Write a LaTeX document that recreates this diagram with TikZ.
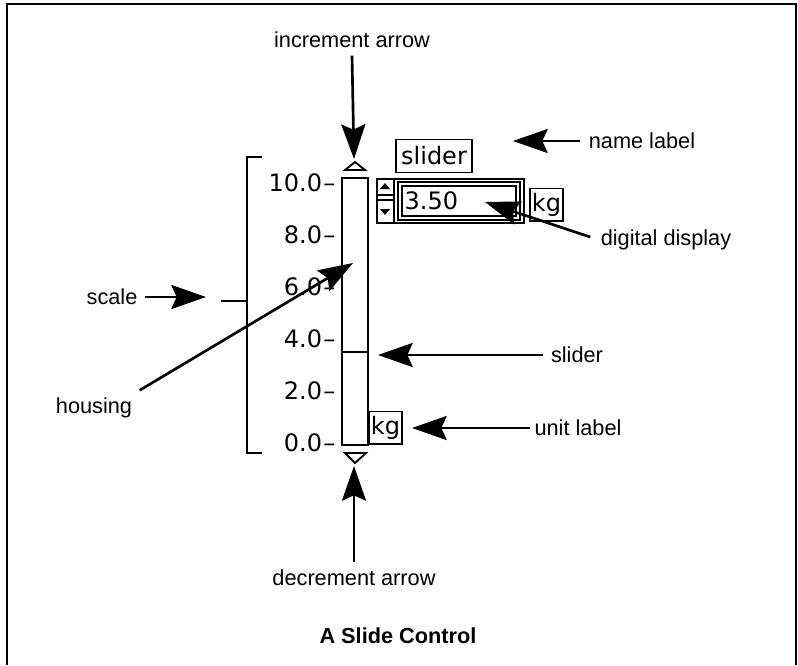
\documentclass[tikz,border=0pt]{standalone}
\usepackage{fontspec}
\setmainfont{Liberation Sans}
\newfontfamily\macfont{DejaVu Sans}
\usetikzlibrary{positioning,arrows.meta,calc}

\begin{document}
\begin{tikzpicture}[
  x=0.75pt, y=-0.75pt,
  lbl/.style={font=\fontsize{16.3}{18}\selectfont, inner sep=1pt},
  mac/.style={font=\macfont\fontsize{18}{20}\selectfont, inner sep=1pt},
  widget/.style={line width=1.4pt},
  tag/.style={draw, line width=1.2pt, mac, minimum width=25pt, minimum height=24.5pt, inner sep=1pt},
  arr/.style={-{Stealth[length=26pt, width=18pt, inset=4pt]}, line width=2pt}
]
  \useasboundingbox (0,0) rectangle (798,665);
  \draw[line width=2.2pt] (7,665) -- (7,4) -- (796,4) -- (796,665);

  % housing with slider and arrows
  \draw[widget] (342,178) rectangle (368,445);
  \draw[widget] (342,352) -- (368,352);
  \draw[widget] (345,170) -- (365,170) -- (355,162) -- cycle;
  \draw[widget] (345,453) -- (366,453) -- (355,463) -- cycle;
  \coordinate (incPt) at (354,159);
  \coordinate (decPt) at (354,466);
  \coordinate (housingPt) at (353,263);
  \coordinate (sliderPt) at (378,355);

  % scale
  \draw[widget] (262,157) -- (247,157) -- (247,453) -- (262,453);
  \draw[widget] (247,301) -- (221,301);
  \coordinate (scalePt) at (206,297);
  \foreach \v [count=\i from 0] in {0.0,2.0,4.0,6.0,8.0,10.0}
    \node[mac, anchor=east] (tick\i) at (337,443-52*\i) {\v\kern1pt–};

  % unit label
  \node[tag, anchor=south west] (unitLbl) at (368,445) {kg};
  \coordinate (unitPt) at (412,428);

  % name label
  \node[tag, minimum width=57pt] (nameLbl) at (434,156) {slider};
  \coordinate (namePt) at (513,141);

  % digital display
  \draw[widget] (377,179) rectangle (524,223);
  \draw[widget] (394,179) -- (394,223);
  \draw[line width=1pt] (398,182) rectangle (520,220);
  \draw[line width=1pt] (402,186) rectangle (516,216);
  \fill (380,189) -- (390,189) -- (385,183) -- cycle;
  \draw[line width=1pt] (377,195) -- (394,195);
  \draw[line width=1pt] (377,200) -- (394,200);
  \fill (380,209) -- (390,209) -- (385,215) -- cycle;
  \node[mac, anchor=west] (value) at (403,201) {3.50};
  \node[tag, anchor=south west] (dispUnit) at (529,222) {kg};
  \coordinate (dispPt) at (485,202);

  % callouts
  \node[lbl] (incTxt) at (352,40) {increment arrow};
  \node[lbl] (decTxt) at (354,578) {decrement arrow};
  \node[lbl] (nameTxt) at (642,141) {name label};
  \node[lbl] (dispTxt) at (666,240) {digital display};
  \node[lbl] (sliderTxt) at (577,355) {slider};
  \node[lbl] (unitTxt) at (578,428) {unit label};
  \node[lbl] (scaleTxt) at (112,297) {scale};
  \node[lbl] (housingTxt) at (94,408) {housing};
  \node[lbl, font=\bfseries\fontsize{16.3}{18}\selectfont] (title) at (398,636) {A Slide Control};

  \draw[arr] (incTxt.south) ++(0,6) -- (incPt);
  \draw[arr] (decTxt.north) ++(0,-6) -- (decPt);
  \draw[arr] (nameTxt.west) ++(-7,0) -- (namePt);
  \draw[arr, shorten <=7pt] (dispTxt.west) -- (dispPt);
  \draw[arr] (sliderTxt.west) ++(-6,0) -- (sliderPt);
  \draw[arr] (unitTxt.west) ++(-3,0) -- (unitPt);
  \draw[arr] (scaleTxt.east) ++(6,0) -- (scalePt);
  \draw[arr] (housingTxt.north east) ++(6,-6) -- (housingPt);
\end{tikzpicture}
\end{document}
